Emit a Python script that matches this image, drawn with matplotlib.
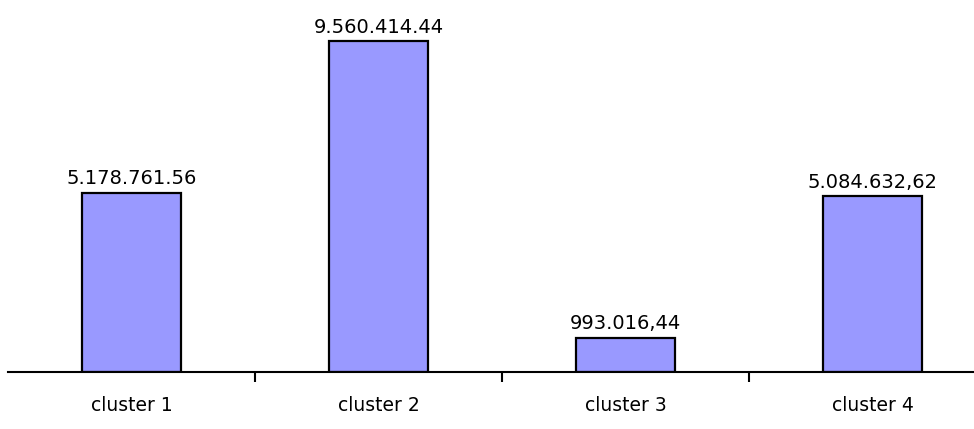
import matplotlib.pyplot as plt

clusters = ['cluster 1', 'cluster 2', 'cluster 3', 'cluster 4']
values = [5178761.56, 9560414.44, 993016.44, 5084632.62]
value_labels = ['5.178.761.56', '9.560.414.44', '993.016,44', '5.084.632,62']

plt.rcParams['font.family'] = ['DejaVu Sans']

fig = plt.figure(figsize=(9.74, 4.29), dpi=100)
ax = fig.add_axes([8 / 974, 57 / 429, 988 / 974, 372 / 429])

pos = range(len(clusters))
bars = ax.bar(pos, values, width=0.40, color='#9999ff', edgecolor='black', linewidth=1.6, zorder=2)
for b, lab in zip(bars, value_labels):
    ax.annotate(lab, (b.get_x() + b.get_width() / 2, b.get_height()),
                xytext=(0, 3), textcoords='offset points', ha='center', va='bottom',
                fontsize=14)

ax.set_xlim(-0.5, 3.5)
ax.set_ylim(0, 10.74e6)
ax.set_xticks(list(pos))
ax.set_xticklabels(clusters, fontsize=13.5)
ax.tick_params(axis='x', which='major', length=0, pad=17)
ax.set_xticks([0.5, 1.5, 2.5], minor=True)
ax.tick_params(axis='x', which='minor', length=7, width=1.5, direction='out')
ax.set_yticks([])
for s in ['left', 'right', 'top']:
    ax.spines[s].set_visible(False)
ax.spines['bottom'].set_linewidth(1.5)

fig.savefig('out.png', dpi=100)
